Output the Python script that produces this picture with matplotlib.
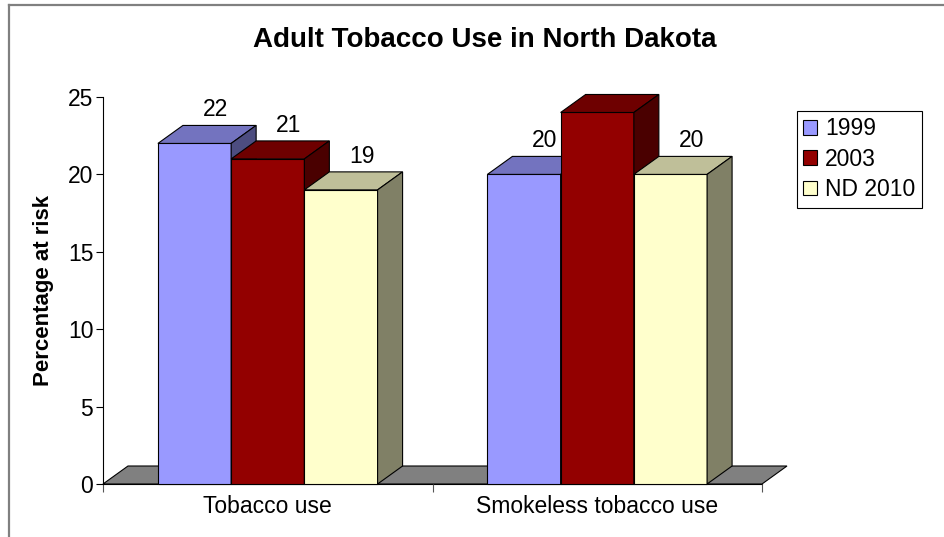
import matplotlib.pyplot as plt
from matplotlib.lines import Line2D
from matplotlib.patches import Patch, Polygon, Rectangle

plt.rcParams['font.family'] = ['Liberation Sans', 'DejaVu Sans']

categories = ['Tobacco use', 'Smokeless tobacco use']
series_names = ['1999', '2003', 'ND 2010']
values_1999 = [22, 20]
values_2003 = [21, 24]
values_2010 = [19, 20]
y_ticks = [0, 5, 10, 15, 20, 25]

# front, top, side shades (excel-ish 3d look)
SHADES = [
    ('#9999FF', '#7373BF', '#4D4D80'),
    ('#930000', '#6E0000', '#4A0000'),
    ('#FFFFCC', '#BFBF99', '#808066'),
]
FS = 16.5

W, H, DPI = 944, 537, 100
fig = plt.figure(figsize=(W / DPI, H / DPI), dpi=DPI)
ax = fig.add_axes([103 / W, 1 - 484 / H, (762 - 103) / W, (484 - 97) / H])
ax.set_xlim(0, len(categories))
ax.set_ylim(0, 25)

# depth offset in data units (25 px right, 18 px up)
dx = 25 / (ax.get_position().width * W) * len(categories)
dy = 18 / (ax.get_position().height * H) * 25

# floor
ax.add_patch(Polygon(
    [(0, 0), (len(categories), 0), (len(categories) + dx, dy), (dx, dy)],
    closed=True, facecolor='#808080', edgecolor='black', lw=0.8,
    clip_on=False, zorder=1,
))

series = [values_1999, values_2003, values_2010]
bw = 1 / (len(series) + 1.5)
for i, cat in enumerate(categories):
    start = i + 0.5 - len(series) * bw / 2
    for j, vals in enumerate(series):
        v = vals[i]
        x0 = start + j * bw
        x1 = x0 + bw
        front, top, side = SHADES[j]
        kw = dict(edgecolor='black', lw=0.8, clip_on=False, zorder=2)
        ax.add_patch(Rectangle((x0, 0), bw, v, facecolor=front, **kw))
        ax.add_patch(Polygon(
            [(x0, v), (x1, v), (x1 + dx, v + dy), (x0 + dx, v + dy)],
            closed=True, facecolor=top, **kw))
        ax.add_patch(Polygon(
            [(x1, 0), (x1 + dx, dy), (x1 + dx, v + dy), (x1, v)],
            closed=True, facecolor=side, **kw))
        ax.annotate(f'{v}', (x0 + bw / 2 + dx, v + dy), xytext=(-3, 3),
                    textcoords='offset points', ha='center', va='bottom',
                    fontsize=FS, zorder=3)

ax.spines['top'].set_visible(False)
ax.spines['right'].set_visible(False)
ax.spines['left'].set_linewidth(0.8)
ax.spines['bottom'].set_linewidth(0.8)
ax.spines['bottom'].set_zorder(0)

ax.set_yticks(y_ticks)
ax.tick_params(axis='y', direction='out', length=5, width=0.8, labelsize=FS, pad=2)
ax.set_xticks(range(len(categories) + 1))
ax.set_xticklabels([''] * (len(categories) + 1))
ax.set_xticks([i + 0.5 for i in range(len(categories))], minor=True)
ax.set_xticklabels(categories, minor=True)
ax.tick_params(axis='x', which='major', direction='out', length=6, width=0.8, color='#555555')
ax.tick_params(axis='x', which='minor', length=0, labelsize=FS, pad=8)

ax.set_ylabel('Percentage at risk', fontsize=16, fontweight='bold', labelpad=10)
fig.text(485 / W, 1 - 40 / H, 'Adult Tobacco Use in North Dakota',
         ha='center', va='center', fontsize=20, fontweight='bold')

handles = [Patch(facecolor=s[0], edgecolor='black', lw=0.8) for s in SHADES]
leg = fig.legend(handles, series_names, loc='upper left',
                 bbox_to_anchor=(797 / W, 1 - 111 / H), borderaxespad=0,
                 fontsize=FS, fancybox=False, edgecolor='black', framealpha=1,
                 handlelength=0.6, handleheight=0.6, handletextpad=0.35,
                 labelspacing=0.32, borderpad=0.28)
leg.get_frame().set_linewidth(0.8)

# outer chart frame (only top and left edges visible)
fig.add_artist(Line2D([9 / W, 9 / W], [0, 1 - 5 / H], color='#808080', lw=1.6))
fig.add_artist(Line2D([9 / W, 1], [1 - 5 / H, 1 - 5 / H], color='#808080', lw=1.6))

fig.savefig('out.png', dpi=DPI)
